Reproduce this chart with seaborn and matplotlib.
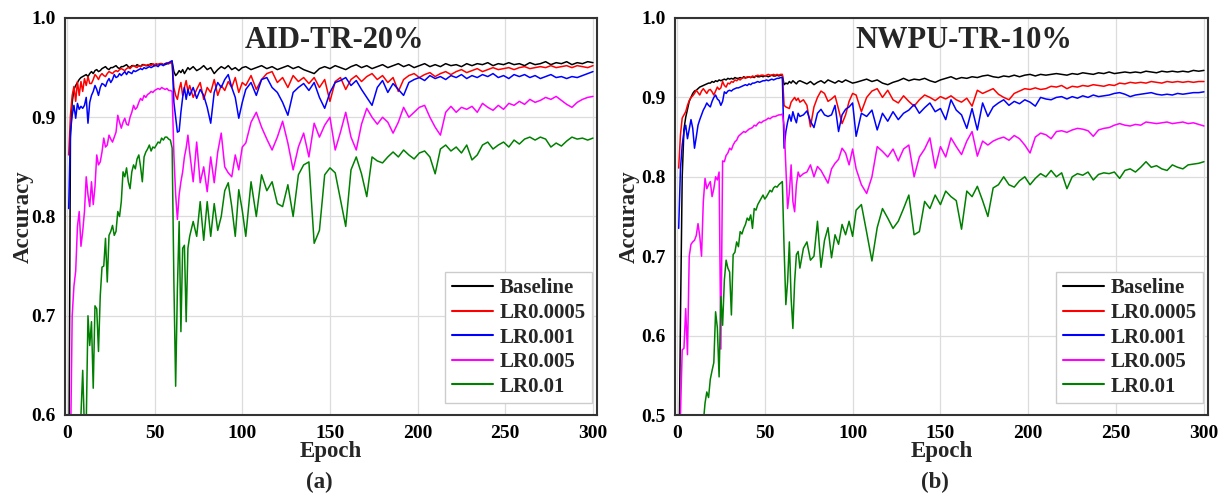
import matplotlib
matplotlib.use("Agg")
import matplotlib.pyplot as plt
import numpy as np
import pandas as pd
import seaborn as sns
from matplotlib.ticker import MultipleLocator, FormatStrFormatter

# ---------------- data ----------------
EPOCHS = list(range(1, 71)) + list(range(72, 101, 2)) + list(range(102, 301, 3))
SERIES = ["Baseline", "LR0.0005", "LR0.001", "LR0.005", "LR0.01"]
COLORS = ["#000000", "#ff0000", "#0000ff", "#ff00ff", "#008000"]
TITLES = ["AID-TR-20%", "NWPU-TR-10%"]
PANEL_LABELS = ["(a)", "(b)"]
YLIMS = [(0.6, 1.0), (0.5, 1.0)]

aid_baseline = [
    0.50, 0.88, 0.915, 0.928, 0.932, 0.935, 0.938, 0.940, 0.941, 0.942,
    0.943, 0.941, 0.944, 0.946, 0.944, 0.947, 0.948, 0.946, 0.947, 0.949,
    0.950, 0.951, 0.949, 0.948, 0.950, 0.950, 0.951, 0.952, 0.950, 0.949,
    0.951, 0.951, 0.952, 0.953, 0.951, 0.950, 0.952, 0.952, 0.951, 0.953,
    0.952, 0.951, 0.953, 0.953, 0.952, 0.952, 0.953, 0.954, 0.953, 0.952,
    0.953, 0.953, 0.954, 0.954, 0.953, 0.953, 0.954, 0.954, 0.955, 0.956,
    0.946, 0.942, 0.944, 0.947, 0.945, 0.948, 0.944, 0.947, 0.950, 0.948,
    0.951, 0.947, 0.949, 0.952, 0.948, 0.950, 0.944, 0.948, 0.951, 0.949, 0.952, 0.948, 0.950, 0.947, 0.950,
    0.951, 0.948, 0.950, 0.952, 0.949, 0.951, 0.948, 0.950, 0.952, 0.949,
    0.951, 0.948, 0.946, 0.944, 0.949, 0.951, 0.949, 0.952, 0.950, 0.948,
    0.951, 0.953, 0.950, 0.952, 0.949, 0.951, 0.953, 0.950, 0.952, 0.954,
    0.951, 0.953, 0.950, 0.952, 0.954, 0.951, 0.953, 0.951, 0.954, 0.952,
    0.953, 0.951, 0.954, 0.952, 0.954, 0.953, 0.955, 0.952, 0.954, 0.953,
    0.955, 0.953, 0.954, 0.952, 0.955, 0.953, 0.954, 0.956, 0.953, 0.955,
    0.954, 0.956, 0.953, 0.955, 0.954, 0.956, 0.955,
]
aid_lr0005 = [
    0.862, 0.902, 0.922, 0.931, 0.916, 0.936, 0.922, 0.936, 0.926, 0.939,
    0.932, 0.941, 0.934, 0.934, 0.938, 0.943, 0.941, 0.938, 0.942, 0.944,
    0.942, 0.941, 0.944, 0.946, 0.945, 0.944, 0.946, 0.947, 0.946, 0.948,
    0.949, 0.948, 0.947, 0.949, 0.950, 0.949, 0.951, 0.952, 0.951, 0.950,
    0.952, 0.951, 0.952, 0.953, 0.952, 0.953, 0.953, 0.952, 0.954, 0.953,
    0.954, 0.953, 0.954, 0.954, 0.953, 0.954, 0.955, 0.954, 0.955, 0.955,
    0.930, 0.922, 0.918, 0.928, 0.935, 0.922, 0.930, 0.937, 0.926, 0.932,
    0.920, 0.928, 0.935, 0.918, 0.930, 0.925, 0.938, 0.922, 0.932, 0.927, 0.936, 0.930, 0.940, 0.925, 0.935,
    0.932, 0.942, 0.928, 0.938, 0.944, 0.946, 0.935, 0.940, 0.930, 0.942,
    0.936, 0.940, 0.934, 0.940, 0.930, 0.938, 0.916, 0.936, 0.940, 0.928,
    0.938, 0.942, 0.936, 0.941, 0.944, 0.938, 0.942, 0.935, 0.940, 0.926,
    0.938, 0.942, 0.944, 0.940, 0.943, 0.945, 0.941, 0.944, 0.946, 0.943,
    0.946, 0.948, 0.945, 0.947, 0.949, 0.946, 0.948, 0.950, 0.948, 0.949,
    0.950, 0.948, 0.950, 0.951, 0.949, 0.950, 0.951, 0.950, 0.952, 0.950,
    0.951, 0.952, 0.950, 0.952, 0.951, 0.950, 0.952,
]
aid_lr001 = [
    0.808, 0.885, 0.902, 0.912, 0.899, 0.914, 0.908, 0.911, 0.909, 0.912,
    0.920, 0.894, 0.915, 0.922, 0.926, 0.932, 0.928, 0.922, 0.930, 0.934,
    0.933, 0.931, 0.936, 0.939, 0.935, 0.938, 0.943, 0.940, 0.941, 0.944,
    0.942, 0.944, 0.946, 0.943, 0.946, 0.945, 0.944, 0.947, 0.946, 0.947,
    0.948, 0.949, 0.948, 0.950, 0.949, 0.950, 0.951, 0.950, 0.951, 0.952,
    0.952, 0.951, 0.953, 0.953, 0.952, 0.954, 0.954, 0.955, 0.956, 0.957,
    0.915, 0.900, 0.885, 0.886, 0.905, 0.920, 0.930, 0.918, 0.928, 0.922,
    0.930, 0.919, 0.928, 0.922, 0.910, 0.894, 0.925, 0.935, 0.930, 0.938, 0.943, 0.930, 0.920, 0.899, 0.915,
    0.928, 0.935, 0.922, 0.938, 0.940, 0.930, 0.925, 0.915, 0.902, 0.925,
    0.930, 0.934, 0.927, 0.935, 0.920, 0.909, 0.925, 0.935, 0.937, 0.940,
    0.932, 0.937, 0.928, 0.920, 0.912, 0.930, 0.937, 0.925, 0.934, 0.928,
    0.922, 0.935, 0.938, 0.940, 0.937, 0.942, 0.939, 0.941, 0.938, 0.942,
    0.940, 0.943, 0.939, 0.942, 0.940, 0.943, 0.941, 0.944, 0.940, 0.942,
    0.939, 0.943, 0.941, 0.943, 0.940, 0.942, 0.939, 0.941, 0.943, 0.940,
    0.941, 0.939, 0.941, 0.940, 0.942, 0.944, 0.946,
]
aid_lr005 = [
    0.45, 0.56, 0.70, 0.73, 0.745, 0.79, 0.805, 0.770, 0.785, 0.805,
    0.840, 0.822, 0.810, 0.835, 0.812, 0.830, 0.862, 0.852, 0.855, 0.865,
    0.879, 0.870, 0.872, 0.882, 0.878, 0.875, 0.880, 0.885, 0.902, 0.895,
    0.889, 0.895, 0.899, 0.893, 0.892, 0.900, 0.905, 0.912, 0.908, 0.910,
    0.915, 0.919, 0.917, 0.922, 0.920, 0.923, 0.924, 0.926, 0.925, 0.927,
    0.928, 0.929, 0.928, 0.930, 0.929, 0.928, 0.929, 0.927, 0.927, 0.926,
    0.862, 0.822, 0.797, 0.822, 0.835, 0.845, 0.860, 0.869, 0.882, 0.865,
    0.835, 0.875, 0.834, 0.850, 0.825, 0.860, 0.834, 0.865, 0.884, 0.850, 0.844, 0.840, 0.862, 0.847, 0.870,
    0.874, 0.895, 0.905, 0.890, 0.878, 0.867, 0.880, 0.896, 0.874, 0.847,
    0.870, 0.884, 0.860, 0.894, 0.880, 0.892, 0.900, 0.867, 0.885, 0.905,
    0.880, 0.867, 0.893, 0.909, 0.900, 0.893, 0.900, 0.895, 0.884, 0.895,
    0.910, 0.900, 0.905, 0.910, 0.912, 0.900, 0.890, 0.882, 0.905, 0.911,
    0.905, 0.910, 0.908, 0.911, 0.905, 0.914, 0.910, 0.907, 0.912, 0.908,
    0.914, 0.912, 0.916, 0.913, 0.918, 0.915, 0.917, 0.920, 0.918, 0.921,
    0.917, 0.913, 0.910, 0.915, 0.918, 0.920, 0.921,
]
aid_lr01 = [
    0.30, 0.38, 0.44, 0.49, 0.53, 0.56, 0.58, 0.60, 0.645, 0.585,
    0.590, 0.700, 0.670, 0.694, 0.627, 0.710, 0.707, 0.664, 0.720, 0.749,
    0.750, 0.778, 0.734, 0.781, 0.785, 0.791, 0.781, 0.785, 0.805, 0.800,
    0.815, 0.845, 0.840, 0.849, 0.835, 0.828, 0.845, 0.852, 0.848, 0.858,
    0.862, 0.850, 0.835, 0.860, 0.865, 0.868, 0.872, 0.866, 0.870, 0.869,
    0.872, 0.875, 0.874, 0.879, 0.877, 0.880, 0.880, 0.878, 0.877, 0.869,
    0.734, 0.629, 0.727, 0.795, 0.684, 0.768, 0.771, 0.694, 0.768, 0.780,
    0.795, 0.780, 0.815, 0.776, 0.815, 0.780, 0.813, 0.786, 0.800, 0.826, 0.834, 0.810, 0.780, 0.827, 0.806,
    0.780, 0.835, 0.800, 0.842, 0.826, 0.835, 0.813, 0.810, 0.832, 0.800,
    0.842, 0.852, 0.855, 0.773, 0.786, 0.842, 0.849, 0.844, 0.817, 0.790,
    0.847, 0.860, 0.843, 0.820, 0.860, 0.856, 0.854, 0.860, 0.865, 0.860,
    0.867, 0.862, 0.858, 0.864, 0.866, 0.860, 0.843, 0.868, 0.872, 0.866,
    0.870, 0.864, 0.872, 0.857, 0.862, 0.872, 0.875, 0.868, 0.872, 0.875,
    0.870, 0.877, 0.873, 0.878, 0.880, 0.877, 0.880, 0.878, 0.870, 0.874,
    0.871, 0.876, 0.880, 0.878, 0.879, 0.877, 0.879,
]

nwpu_baseline = [
    0.40, 0.62, 0.80, 0.86, 0.875, 0.885, 0.895, 0.900, 0.905, 0.908,
    0.909, 0.911, 0.913, 0.914, 0.915, 0.916, 0.917, 0.918, 0.918, 0.920,
    0.919, 0.921, 0.920, 0.922, 0.921, 0.922, 0.923, 0.922, 0.924, 0.923,
    0.924, 0.923, 0.925, 0.924, 0.924, 0.925, 0.924, 0.926, 0.925, 0.925,
    0.926, 0.925, 0.926, 0.925, 0.927, 0.926, 0.926, 0.927, 0.926, 0.927,
    0.927, 0.926, 0.927, 0.928, 0.927, 0.927, 0.928, 0.927, 0.928, 0.928,
    0.916, 0.918, 0.917, 0.920, 0.918, 0.921, 0.919, 0.917, 0.920, 0.921,
    0.919, 0.917, 0.920, 0.916, 0.919, 0.921, 0.918, 0.922, 0.920, 0.918, 0.921, 0.919, 0.922, 0.920, 0.918,
    0.919, 0.921, 0.923, 0.920, 0.922, 0.918, 0.916, 0.919, 0.921, 0.924,
    0.921, 0.923, 0.922, 0.924, 0.921, 0.919, 0.922, 0.924, 0.926, 0.923,
    0.925, 0.924, 0.926, 0.925, 0.927, 0.928, 0.926, 0.925, 0.927, 0.926,
    0.928, 0.926, 0.928, 0.929, 0.927, 0.929, 0.928, 0.929, 0.930, 0.929,
    0.928, 0.930, 0.929, 0.931, 0.930, 0.929, 0.931, 0.930, 0.932, 0.930,
    0.931, 0.932, 0.931, 0.932, 0.931, 0.933, 0.932, 0.931, 0.933, 0.932,
    0.933, 0.932, 0.933, 0.932, 0.934, 0.933, 0.934,
]
nwpu_lr0005 = [
    0.811, 0.853, 0.874, 0.878, 0.882, 0.890, 0.896, 0.900, 0.902, 0.905,
    0.909, 0.906, 0.903, 0.908, 0.911, 0.908, 0.905, 0.909, 0.910, 0.907,
    0.903, 0.908, 0.913, 0.910, 0.912, 0.920, 0.915, 0.913, 0.918, 0.917,
    0.920, 0.919, 0.922, 0.921, 0.923, 0.922, 0.924, 0.925, 0.924, 0.926,
    0.926, 0.925, 0.927, 0.926, 0.927, 0.928, 0.927, 0.928, 0.928, 0.927,
    0.928, 0.929, 0.928, 0.928, 0.929, 0.928, 0.929, 0.928, 0.929, 0.929,
    0.890, 0.888, 0.887, 0.886, 0.894, 0.897, 0.900, 0.896, 0.899, 0.894,
    0.897, 0.890, 0.863, 0.888, 0.900, 0.908, 0.905, 0.895, 0.898, 0.902, 0.885, 0.867, 0.878, 0.895, 0.905,
    0.903, 0.882, 0.900, 0.908, 0.911, 0.900, 0.909, 0.897, 0.893, 0.902,
    0.895, 0.889, 0.897, 0.903, 0.900, 0.896, 0.901, 0.898, 0.902, 0.897,
    0.894, 0.899, 0.889, 0.909, 0.905, 0.908, 0.911, 0.904, 0.900, 0.897,
    0.905, 0.908, 0.911, 0.910, 0.912, 0.910, 0.911, 0.914, 0.913, 0.915,
    0.911, 0.914, 0.913, 0.915, 0.914, 0.916, 0.915, 0.914, 0.916, 0.915,
    0.918, 0.917, 0.919, 0.918, 0.919, 0.918, 0.920, 0.919, 0.918, 0.920,
    0.919, 0.920, 0.919, 0.920, 0.919, 0.920, 0.920,
]
nwpu_lr001 = [
    0.735, 0.810, 0.840, 0.857, 0.865, 0.848, 0.860, 0.872, 0.861, 0.836,
    0.850, 0.865, 0.872, 0.878, 0.884, 0.888, 0.893, 0.890, 0.888, 0.895,
    0.900, 0.903, 0.898, 0.896, 0.890, 0.895, 0.907, 0.905, 0.908, 0.909,
    0.908, 0.910, 0.911, 0.912, 0.912, 0.913, 0.914, 0.915, 0.916, 0.915,
    0.917, 0.916, 0.918, 0.918, 0.919, 0.920, 0.919, 0.920, 0.921, 0.921,
    0.922, 0.921, 0.922, 0.923, 0.922, 0.923, 0.924, 0.924, 0.925, 0.925,
    0.836, 0.857, 0.869, 0.878, 0.870, 0.882, 0.874, 0.868, 0.880, 0.876,
    0.878, 0.883, 0.870, 0.862, 0.880, 0.885, 0.878, 0.876, 0.878, 0.890, 0.857, 0.878, 0.885, 0.888, 0.893,
    0.851, 0.880, 0.876, 0.884, 0.859, 0.880, 0.870, 0.882, 0.872, 0.880,
    0.884, 0.891, 0.880, 0.887, 0.893, 0.882, 0.886, 0.872, 0.897, 0.884,
    0.878, 0.861, 0.886, 0.859, 0.893, 0.876, 0.888, 0.893, 0.897, 0.890,
    0.895, 0.892, 0.897, 0.894, 0.889, 0.900, 0.898, 0.897, 0.900, 0.901,
    0.898, 0.901, 0.899, 0.902, 0.900, 0.903, 0.901, 0.902, 0.903, 0.905,
    0.906, 0.904, 0.901, 0.903, 0.904, 0.905, 0.906, 0.904, 0.903, 0.904,
    0.903, 0.905, 0.904, 0.905, 0.906, 0.906, 0.907,
]
nwpu_lr005 = [
    0.40, 0.50, 0.582, 0.584, 0.634, 0.576, 0.700, 0.715, 0.718, 0.720,
    0.726, 0.741, 0.725, 0.700, 0.768, 0.798, 0.785, 0.790, 0.794, 0.775,
    0.785, 0.800, 0.796, 0.806, 0.583, 0.820, 0.819, 0.827, 0.830, 0.836,
    0.834, 0.840, 0.844, 0.846, 0.851, 0.853, 0.855, 0.857, 0.856, 0.858,
    0.860, 0.861, 0.862, 0.865, 0.864, 0.867, 0.869, 0.868, 0.870, 0.871,
    0.872, 0.874, 0.873, 0.875, 0.876, 0.876, 0.877, 0.878, 0.878, 0.879,
    0.865, 0.811, 0.760, 0.780, 0.815, 0.769, 0.756, 0.790, 0.806, 0.800,
    0.804, 0.806, 0.815, 0.800, 0.813, 0.808, 0.800, 0.792, 0.810, 0.817, 0.822, 0.836, 0.830, 0.815, 0.835,
    0.810, 0.790, 0.779, 0.800, 0.838, 0.832, 0.825, 0.835, 0.820, 0.835,
    0.840, 0.800, 0.825, 0.835, 0.849, 0.811, 0.838, 0.825, 0.849, 0.838,
    0.828, 0.845, 0.857, 0.826, 0.845, 0.840, 0.845, 0.848, 0.850, 0.846,
    0.852, 0.848, 0.840, 0.830, 0.850, 0.855, 0.853, 0.848, 0.857, 0.858,
    0.856, 0.859, 0.861, 0.860, 0.858, 0.851, 0.859, 0.861, 0.862, 0.865,
    0.867, 0.865, 0.864, 0.866, 0.865, 0.869, 0.868, 0.867, 0.868, 0.869,
    0.867, 0.868, 0.869, 0.867, 0.868, 0.866, 0.864,
]
nwpu_lr01 = [
    0.20, 0.25, 0.28, 0.31, 0.33, 0.35, 0.37, 0.39, 0.41, 0.43,
    0.45, 0.46, 0.47, 0.48, 0.49, 0.515, 0.529, 0.522, 0.545, 0.556,
    0.566, 0.630, 0.610, 0.548, 0.649, 0.613, 0.670, 0.695, 0.685, 0.680,
    0.626, 0.702, 0.705, 0.718, 0.712, 0.731, 0.728, 0.735, 0.740, 0.748,
    0.745, 0.752, 0.735, 0.760, 0.758, 0.765, 0.769, 0.773, 0.777, 0.772,
    0.775, 0.779, 0.783, 0.781, 0.786, 0.788, 0.787, 0.790, 0.792, 0.794,
    0.710, 0.639, 0.668, 0.718, 0.647, 0.609, 0.668, 0.702, 0.706, 0.685,
    0.710, 0.718, 0.695, 0.700, 0.744, 0.686, 0.720, 0.736, 0.698, 0.727, 0.715, 0.740, 0.727, 0.744, 0.725,
    0.758, 0.765, 0.730, 0.694, 0.736, 0.760, 0.748, 0.735, 0.744, 0.760,
    0.777, 0.727, 0.731, 0.769, 0.760, 0.777, 0.765, 0.782, 0.775, 0.770,
    0.734, 0.782, 0.775, 0.788, 0.770, 0.750, 0.786, 0.790, 0.800, 0.790,
    0.787, 0.795, 0.800, 0.790, 0.798, 0.804, 0.800, 0.808, 0.800, 0.805,
    0.785, 0.800, 0.804, 0.802, 0.806, 0.796, 0.803, 0.805, 0.804, 0.806,
    0.798, 0.808, 0.810, 0.806, 0.812, 0.819, 0.812, 0.814, 0.810, 0.808,
    0.815, 0.812, 0.810, 0.815, 0.816, 0.817, 0.819,
]

PANELS = [
    [aid_baseline, aid_lr0005, aid_lr001, aid_lr005, aid_lr01],
    [nwpu_baseline, nwpu_lr0005, nwpu_lr001, nwpu_lr005, nwpu_lr01],
]

# ---------------- style ----------------
sns.set_style("white")
plt.rcParams["font.family"] = ["Liberation Serif", "DejaVu Serif"]
plt.rcParams["font.weight"] = "bold"
plt.rcParams["axes.labelweight"] = "bold"

W, H = 1229, 495
fig = plt.figure(figsize=(W / 100, H / 100), dpi=100)

axes_px = [(65, 18, 597, 415), (675, 18, 1208, 415)]  # left, top, right, bottom
title_x = [0.507, 0.541]
ylabel_x = [23, 629]
panel_lab_x = [319, 935]
palette = dict(zip(SERIES, COLORS))
spine_col = "#333333"

for i, (l, t, r, b) in enumerate(axes_px):
    ax = fig.add_axes([l / W, 1 - b / H, (r - l) / W, (b - t) / H])
    rows = []
    for name, vals in zip(SERIES, PANELS[i]):
        for e, v in zip(EPOCHS, vals):
            rows.append((e, v, name))
    df = pd.DataFrame(rows, columns=["Epoch", "Accuracy", "Series"])
    sns.lineplot(data=df, x="Epoch", y="Accuracy", hue="Series", hue_order=SERIES,
                 palette=palette, estimator=None, sort=False, linewidth=1.1, ax=ax)

    ax.set_xlim(-1.1, 302.3)
    ax.set_ylim(*YLIMS[i])
    ax.xaxis.set_major_locator(MultipleLocator(50))
    ax.xaxis.set_minor_locator(MultipleLocator(25))
    ax.yaxis.set_major_locator(MultipleLocator(0.1))
    ax.yaxis.set_minor_locator(MultipleLocator(0.05))
    ax.yaxis.set_major_formatter(FormatStrFormatter("%.1f"))
    ax.grid(True, which="major", color="#dcdcdc", linewidth=0.9)
    ax.set_axisbelow(True)
    for s in ax.spines.values():
        s.set_color(spine_col)
        s.set_linewidth(1.5)
    ax.tick_params(which="both", direction="in", colors=spine_col, width=1.3,
                   top=False, right=False, labelcolor="black")
    ax.tick_params(which="major", length=6)
    ax.tick_params(which="minor", length=3)
    ax.tick_params(axis="x", which="major", labelsize=14, pad=7.5)
    ax.tick_params(axis="y", which="major", labelsize=14, pad=6.5)
    for lab in ax.get_xticklabels() + ax.get_yticklabels():
        lab.set_fontweight("bold")

    ax.set_xlabel("")
    ax.set_ylabel("")
    ax.text(0.5, -(456.7 - b) / (b - t), "Epoch", transform=ax.transAxes,
            ha="center", va="baseline", fontsize=16.5, fontweight="bold")
    fig.text(ylabel_x[i] / W, 1 - (t + b) / 2 / H, "Accuracy", rotation=90,
             ha="center", va="center", fontsize=16.5, fontweight="bold")
    ax.text(title_x[i], 0.944, TITLES[i], transform=ax.transAxes,
            ha="center", va="center", fontsize=22, fontweight="bold")
    fig.text(panel_lab_x[i] / W, 1 - 488 / H, PANEL_LABELS[i],
             ha="center", va="baseline", fontsize=16.5, fontweight="bold")

    handles, labels = ax.get_legend_handles_labels()
    leg = ax.legend(handles, labels, loc="lower right",
                    bbox_to_anchor=(1 - 5 / (r - l), 12 / (b - t)),
                    borderaxespad=0, frameon=True, fancybox=False,
                    edgecolor="#cccccc", framealpha=1, prop={"size": 15, "weight": "bold"},
                    handlelength=2.0, handletextpad=0.3, labelspacing=0.22,
                    borderpad=0.3)
    leg.get_frame().set_linewidth(1.0)
    for h in leg.get_lines():
        h.set_linewidth(1.5)

fig.savefig("out.png", dpi=100)
